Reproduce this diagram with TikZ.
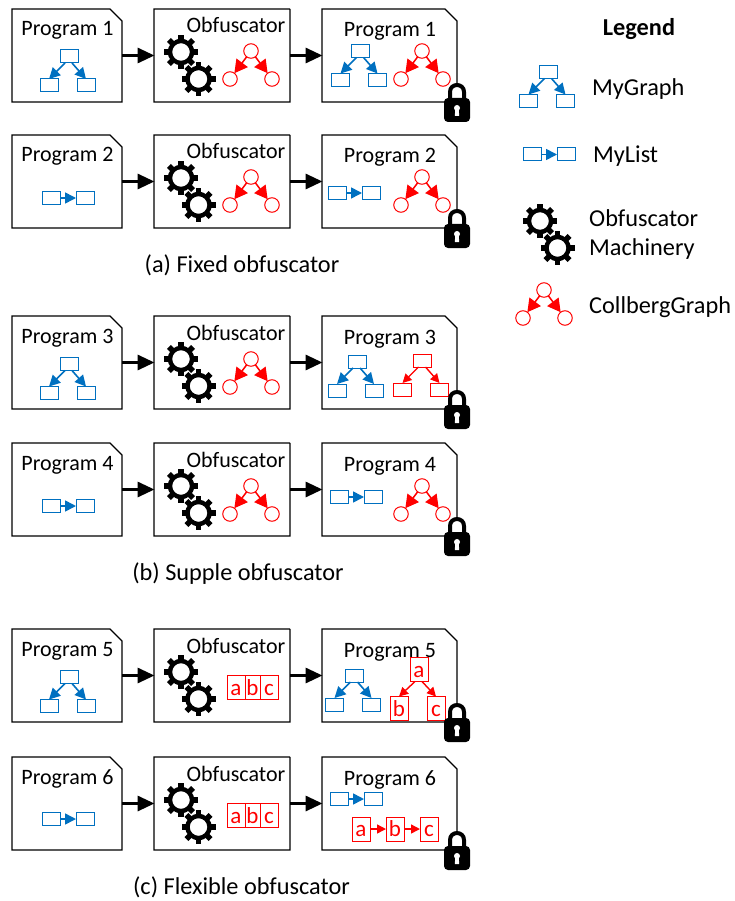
\documentclass[tikz,border=0pt]{standalone}
\usepackage{fontspec}
\setmainfont{Carlito}
\usetikzlibrary{arrows.meta}
\definecolor{myblue}{HTML}{0070C0}
\definecolor{myred}{HTML}{FF0000}
\tikzset{
  progbox/.style={rectangle,inner sep=0pt,outer sep=0pt,minimum width=#1,minimum height=93pt},
  cutline/.style={draw=black,line width=1.2pt,fill=white,line join=miter},
  lab/.style={anchor=base,inner sep=0pt,font=\fontsize{22}{26}\selectfont},
  biglab/.style={anchor=base,inner sep=0pt,font=\fontsize{24.3}{28}\selectfont},
  flow/.style={line width=3.2pt,-{Triangle[length=17pt,width=15pt]},shorten >=-0.5pt},
  bluebox/.style={draw=myblue,line width=1pt,fill=white,minimum width=18pt,minimum height=13pt,inner sep=0pt,outer sep=0pt},
  redbox/.style={draw=myred,line width=1pt,fill=white,minimum width=18pt,minimum height=13pt,inner sep=0pt,outer sep=0pt},
  redcirc/.style={circle,draw=myred,line width=1pt,fill=white,minimum size=14.5pt,inner sep=0pt,outer sep=0pt},
  letter/.style={draw=myred,line width=1pt,fill=white,text=myred,inner sep=0pt,outer sep=0pt,
    minimum height=24pt,text height=15pt,text depth=0pt,font=\fontsize{23}{26}\selectfont},
  blueedge/.style={draw=myblue,line width=1.6pt,-{Triangle[length=11pt,width=11pt]}},
  rededge/.style={draw=myred,line width=1.4pt,-{Triangle[length=9pt,width=9pt]}},
  redfat/.style={draw=myred,line width=1.5pt,-{Triangle[length=13pt,width=14pt]}},
}
% gear: centre
\newcommand\mygear[2]{%
  \fill[black,even odd rule] (#1,#2) circle (13.2) (#1,#2) circle (8.8);
  \foreach \gearang in {0,45,...,315}{
    \draw[black,line width=5.6pt] ([shift={(\gearang:12)}]#1,#2) -- ([shift={(\gearang:17)}]#1,#2);
  }}
\newcommand\mygears[3]{\mygear{#1}{#2}\mygear{#1+17.5}{#3}}
% box graph: name, cx, ytop, box style, edge style
\newcommand\boxgraph[5]{%
  \node[#4] (#1t) at (#2,#3) {};
  \node[#4] (#1l) at (#2-20,#3+29) {};
  \node[#4] (#1r) at (#2+17,#3+29) {};
  \draw[#5] ([xshift=-4pt]#1t.south) -- (#1l.north);
  \draw[#5] ([xshift=3pt]#1t.south) -- (#1r.north);}
% circle graph: name, cx, ytop
\newcommand\circgraph[3]{%
  \node[redcirc] (#1t) at (#2,#3) {};
  \node[redcirc] (#1l) at (#2-21,#3+28) {};
  \node[redcirc] (#1r) at (#2+21,#3+28) {};
  \draw[redfat] (#1t) -- (#1l);
  \draw[redfat] (#1t) -- (#1r);}
% blue list: name, x1, x2, y
\newcommand\bluelist[4]{%
  \node[bluebox] (#1a) at (#2,#4) {};
  \node[bluebox] (#1b) at (#3,#4) {};
  \draw[blueedge] (#1a) -- (#1b);}
% lock: y0
\newcommand\mylock[1]{%
  \fill[white] (450,#1+83) .. controls (450,#1+73.7) and (464,#1+73.7) .. (464,#1+83) -- (464,#1+90) -- (450,#1+90) -- cycle;
  \draw[black,line width=4pt] (450,#1+91) -- (450,#1+83) .. controls (450,#1+73.7) and (464,#1+73.7) .. (464,#1+83) -- (464,#1+91);
  \fill[black,rounded corners=4pt] (444,#1+89) rectangle (470,#1+113);
  \fill[white] (457,#1+99) circle (3);
  \fill[white] (455.4,#1+99) -- (458.6,#1+99) -- (459.2,#1+107) -- (454.8,#1+107) -- cycle;}
% outline of a node with a cut corner of the given size
\newcommand\cutbox[2]{%
  \path[cutline] (#1.south west) -- (#1.north west) -- ([xshift=-#2]#1.north east)
    -- ([yshift=-#2]#1.north east) -- (#1.south east) -- cycle;}
% row frame: id, number, y0
\newcommand\myrow[3]{%
  \node[progbox=110pt] (p#1) at (67,#3+46.5) {};
  \cutbox{p#1}{12pt}
  \node[lab] (pl#1) at (67.5,#3+27) {Program #2};
  \node[progbox=136pt] (o#1) at (222,#3+46.5) {};
  \cutbox{o#1}{0.4pt}
  \node[lab] (ol#1) at (236,#3+24) {Obfuscator};
  \mygears{181}{#3+43}{#3+70}
  \node[progbox=135pt] (q#1) at (389.5,#3+46.5) {};
  \cutbox{q#1}{12pt}
  \node[lab] (ql#1) at (390,#3+28) {Program #2};
  \draw[flow] (p#1.east) -- (o#1.west);
  \draw[flow] (o#1.east) -- (q#1.west);}
\begin{document}
\begin{tikzpicture}[x=1pt,y=-1pt]
\useasboundingbox (0,0) rectangle (734,901);
\fill[white] (0,0) rectangle (734,901);
% Row 1
\myrow{a}{1}{9}
\boxgraph{pag}{69}{56.5}{bluebox}{blueedge}
\circgraph{oag}{251}{51}
\boxgraph{qag}{360.5}{51}{bluebox}{blueedge}
\circgraph{qac}{422}{51}
\mylock{9}
% Row 2
\myrow{b}{2}{135}
\bluelist{pbl}{51}{85}{198}
\circgraph{obg}{251}{177}
\bluelist{qbl}{337}{371}{193}
\circgraph{qbc}{422}{177}
\mylock{135}
% Caption a
\node[biglab] (capa) at (242,272) {(a) Fixed obfuscator};
% Row 3
\myrow{c}{3}{316}
\boxgraph{pcg}{69}{364}{bluebox}{blueedge}
\circgraph{ocg}{251}{359}
\boxgraph{qcg}{357}{361.5}{bluebox}{blueedge}
\boxgraph{qcr}{422.5}{360.5}{redbox}{rededge}
\mylock{316}
% Row 4
\myrow{d}{4}{443}
\bluelist{pdl}{51}{85}{506}
\circgraph{odg}{251}{486}
\bluelist{qdl}{339}{373}{497}
\circgraph{qdc}{422}{486}
\mylock{443}
% Caption b
\node[biglab] (capb) at (238,580) {(b) Supple obfuscator};
% Row 5
\myrow{e}{5}{629}
\boxgraph{peg}{69}{677}{bluebox}{blueedge}
\node[letter,minimum width=18pt] (oea) at (236,687.5) {a};
\node[letter,minimum width=15pt] (oeb) at (252.5,687.5) {b};
\node[letter,minimum width=18pt] (oec) at (269,687.5) {c};
\boxgraph{qeg}{354.5}{675.5}{bluebox}{blueedge}
\node[letter,minimum width=18pt] (qea) at (419,669.5) {a};
\node[letter,minimum width=18pt] (qeb) at (399,708.5) {b};
\node[letter,minimum width=18pt] (qec) at (436,708.5) {c};
\draw[rededge] ([xshift=-4pt]qea.south) -- (qeb.north);
\draw[rededge] ([xshift=3pt]qea.south) -- (qec.north);
\mylock{629}
% Row 6
\myrow{f}{6}{757}
\bluelist{pfl}{51}{85}{819}
\node[letter,minimum width=18pt] (ofa) at (236,815.5) {a};
\node[letter,minimum width=15pt] (ofb) at (252.5,815.5) {b};
\node[letter,minimum width=18pt] (ofc) at (269,815.5) {c};
\bluelist{qfl}{339}{373}{799}
\node[letter,minimum width=18pt] (qfa) at (361,829) {a};
\node[letter,minimum width=18pt] (qfb) at (395,829) {b};
\node[letter,minimum width=18pt] (qfc) at (429,829) {c};
\draw[rededge] (qfa) -- (qfb);
\draw[rededge] (qfb) -- (qfc);
\mylock{757}
% Caption c
\node[biglab] (capc) at (241.5,894) {(c) Flexible obfuscator};
% Legend
\node[biglab,font=\fontsize{24.3}{28}\selectfont\bfseries] (legt) at (639,36) {Legend};
\boxgraph{lg}{548.5}{72}{bluebox}{blueedge}
\node[biglab,anchor=base west] (lgl) at (592,96) {MyGraph};
\bluelist{ll}{532}{566}{154.5}
\node[biglab,anchor=base west] (lll) at (593,163) {MyList};
\mygears{540}{221}{248}
\node[biglab,anchor=base west] (lol) at (589,226) {Obfuscator};
\node[biglab,anchor=base west] (lml) at (589,255) {Machinery};
\circgraph{lc}{544}{290}
\node[biglab,anchor=base west] (lcl) at (589,313) {CollbergGraph};
\end{tikzpicture}
\end{document}
